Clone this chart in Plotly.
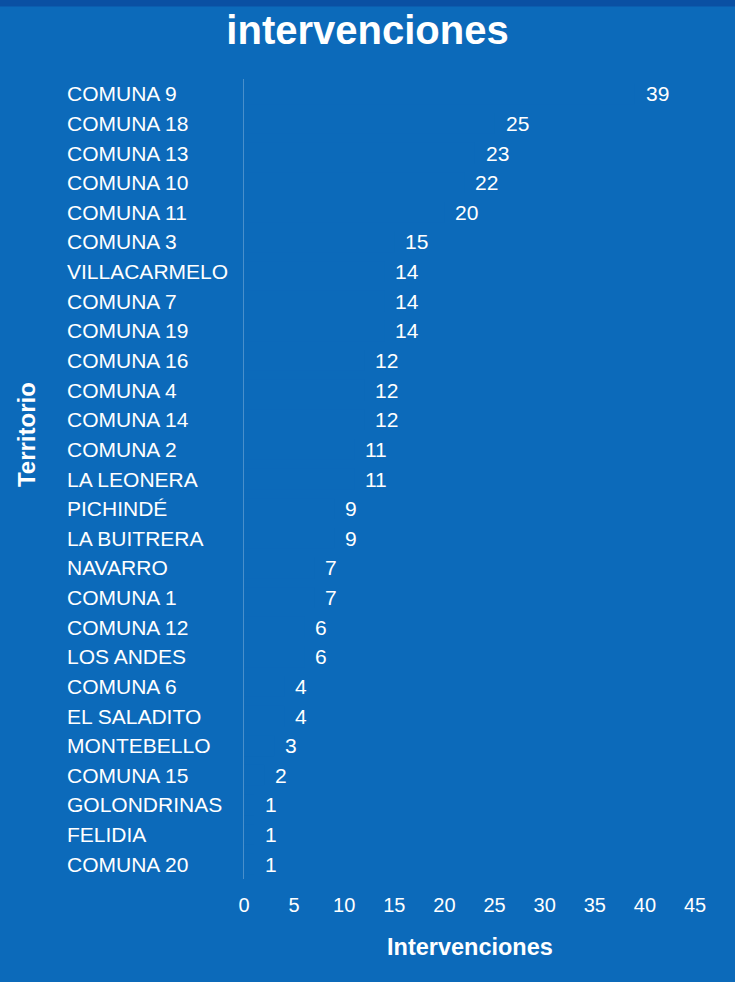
import plotly.graph_objects as go

territorios = ["COMUNA 9", "COMUNA 18", "COMUNA 13", "COMUNA 10", "COMUNA 11", "COMUNA 3",
               "VILLACARMELO", "COMUNA 7", "COMUNA 19", "COMUNA 16", "COMUNA 4", "COMUNA 14",
               "COMUNA 2", "LA LEONERA", "PICHINDÉ", "LA BUITRERA", "NAVARRO", "COMUNA 1",
               "COMUNA 12", "LOS ANDES", "COMUNA 6", "EL SALADITO", "MONTEBELLO", "COMUNA 15",
               "GOLONDRINAS", "FELIDIA", "COMUNA 20"]
intervenciones = [39, 25, 23, 22, 20, 15, 14, 14, 14, 12, 12, 12, 11, 11, 9, 9, 7, 7, 6, 6,
                  4, 4, 3, 2, 1, 1, 1]
x_ticks = [0, 5, 10, 15, 20, 25, 30, 35, 40, 45]

BG = "#0c6aba"
FONT = "Liberation Sans, Arial, sans-serif"

fig = go.Figure()
fig.add_trace(go.Bar(
    x=intervenciones, y=territorios, orientation="h",
    marker=dict(color=BG, line=dict(width=0)),
    hoverinfo="skip",
))

annotations = []
for t in territorios:
    annotations.append(dict(
        x=-0.397, xref="paper", y=t, yref="y", text=t, showarrow=False,
        xanchor="left", yanchor="middle",
        font=dict(color="white", size=21, family=FONT),
    ))
for t, v in zip(territorios, intervenciones):
    annotations.append(dict(
        x=v, xref="x", y=t, yref="y", text=str(v), showarrow=False,
        xanchor="left", yanchor="middle", xshift=9,
        font=dict(color="white", size=21, family=FONT),
    ))
annotations.append(dict(
    x=-0.481, xref="paper", y=0.555, yref="paper", text="<b>Territorio</b>",
    textangle=-90, showarrow=False, xanchor="center", yanchor="middle",
    font=dict(color="white", size=24, family=FONT),
))
annotations.append(dict(
    x=0.5, xref="paper", y=-0.085, yref="paper", text="<b>Intervenciones</b>",
    showarrow=False, xanchor="center", yanchor="middle",
    font=dict(color="white", size=23.5, family=FONT),
))

fig.update_layout(
    width=735, height=982,
    paper_bgcolor=BG, plot_bgcolor=BG,
    margin=dict(l=244, r=40, t=79, b=103),
    title=dict(text="<b>intervenciones</b>", x=0.5, xref="container", xanchor="center",
               y=0.969, yanchor="middle", yref="container",
               font=dict(color="white", size=40, family=FONT)),
    showlegend=False,
    bargap=0.3,
    annotations=annotations,
    shapes=[dict(type="rect", xref="paper", yref="paper", x0=-0.55, x1=1.1,
                 y0=1.0905, y1=1.11, fillcolor="#0a50a3", line=dict(width=0), layer="below")],
)
fig.update_xaxes(range=[0, 45], tickvals=x_ticks, showgrid=False, zeroline=False,
                 showline=False, ticks="", ticklabelstandoff=12,
                 tickfont=dict(color="white", size=20, family=FONT))
fig.update_yaxes(categoryorder="array", categoryarray=territorios, autorange="reversed",
                 showticklabels=False, showgrid=False, zeroline=False, ticks="",
                 showline=True, linecolor="rgba(255,255,255,0.25)", linewidth=1)

fig.write_html("out.html", config={"displayModeBar": False},
               post_script="document.body.style.margin='0';document.body.style.overflow='hidden';")
